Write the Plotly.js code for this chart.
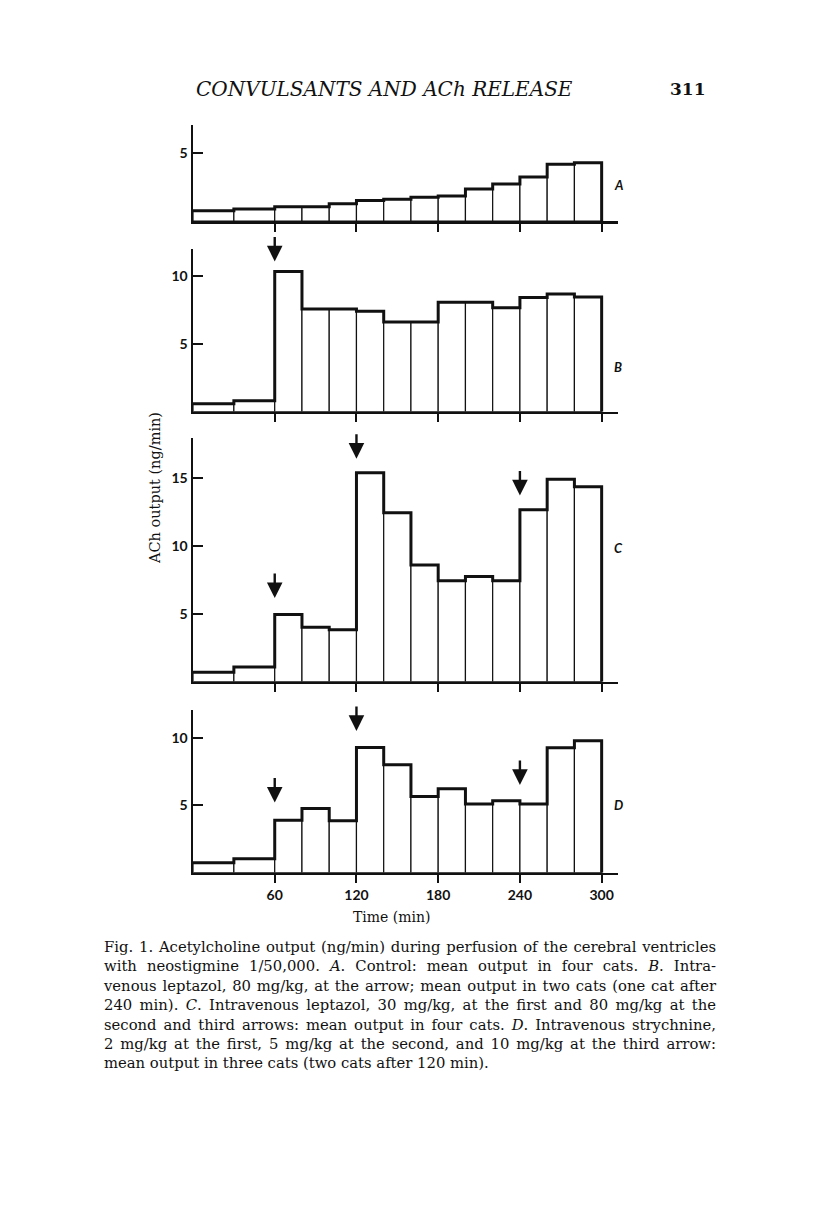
<!DOCTYPE html>
<html>
<head>
<meta charset="utf-8">
<script src="https://cdn.plot.ly/plotly-3.0.1.min.js"></script>
<style>
  body { margin: 0; background: #fff; }
  #wrap { position: relative; width: 816px; height: 1221px; }
  #fig { position: absolute; left: 0; top: 0; width: 816px; height: 1221px; }
  #caption { position: absolute; left: 104px; top: 937px; width: 612px;
             font-family: "DejaVu Serif", serif; font-size: 14.8px; line-height: 19.4px; color: #111; }
  #caption div { white-space: nowrap; text-align: justify; text-align-last: justify; }
  #caption div.last { text-align-last: left; }
</style>
</head>
<body>
<div id="wrap">
  <div id="fig"></div>
  <div id="caption"></div>
</div>
<script>
// bin edges (min): two 30-min collections, then 20-min collections
const edges = [0, 30, 60, 80, 100, 120, 140, 160, 180, 200, 220, 240, 260, 280, 300];

// ACh output (ng/min) for each collection period
const valA = [0.76, 0.88, 1.05, 1.05, 1.27, 1.5, 1.6, 1.74, 1.84, 2.35, 2.72, 3.24, 4.17, 4.29];
const valB = [0.59, 0.81, 10.3, 7.55, 7.55, 7.38, 6.6, 6.6, 8.04, 8.04, 7.65, 8.4, 8.65, 8.43];
const valC = [0.69, 1.08, 4.95, 4.0, 3.82, 15.37, 12.43, 8.58, 7.43, 7.74, 7.43, 12.65, 14.88, 14.34];
const valD = [0.74, 1.04, 3.88, 4.76, 3.85, 9.28, 8.0, 5.65, 6.22, 5.09, 5.33, 5.09, 9.26, 9.78];

// injection arrows: time and height of the arrow tip
const arrowTimesB = [60];
const arrowTipsB = [11.05];
const arrowTimesC = [60, 120, 240];
const arrowTipsC = [6.15, 16.4, 13.7];
const arrowTimesD = [60, 120, 240];
const arrowTipsD = [5.2, 10.5, 6.5];

const xTicks = [60, 120, 180, 240, 300];
const panelLetters = ['A', 'B', 'C', 'D'];

const captionLines = [
  'Fig. 1. Acetylcholine output (ng/min) during perfusion of the cerebral ventricles',
  'with neostigmine 1/50,000. <i>A</i>. Control: mean output in four cats. <i>B</i>. Intra-',
  'venous leptazol, 80 mg/kg, at the arrow; mean output in two cats (one cat after',
  '240 min). <i>C</i>. Intravenous leptazol, 30 mg/kg, at the first and 80 mg/kg at the',
  'second and third arrows: mean output in four cats. <i>D</i>. Intravenous strychnine,',
  '2 mg/kg at the first, 5 mg/kg at the second, and 10 mg/kg at the third arrow:',
  'mean output in three cats (two cats after 120 min).'
];

const H = 1221, W = 816;
const py = p => 1 - p / H;
const px = p => p / W;

const panels = [
  { vals: valA, top: 125, bottom: 221, ymax: 7.06, ticks: [5], arrows: [[], []], letterY: 185 },
  { vals: valB, top: 249.3, bottom: 411.7, ymax: 11.94, ticks: [5, 10], arrows: [arrowTimesB, arrowTipsB], letterY: 367 },
  { vals: valC, top: 438.3, bottom: 681.7, ymax: 17.9, ticks: [5, 10, 15], arrows: [arrowTimesC, arrowTipsC], letterY: 548 },
  { vals: valD, top: 710, bottom: 872.7, ymax: 12.05, ticks: [5, 10], arrows: [arrowTimesD, arrowTipsD], letterY: 805 }
];

const tickFont = { family: 'Lato, "Open Sans", sans-serif', size: 14, color: '#111', weight: 700 };
const data = [];
const layout = {
  width: W, height: H,
  margin: { l: 0, r: 0, t: 0, b: 0 },
  paper_bgcolor: '#fff', plot_bgcolor: '#fff',
  showlegend: false,
  annotations: [],
  font: { family: '"DejaVu Serif", serif', color: '#111' }
};

const centers = edges.slice(0, -1).map((e, i) => (e + edges[i + 1]) / 2);
const widths = edges.slice(0, -1).map((e, i) => edges[i + 1] - e);

panels.forEach((p, i) => {
  const n = i === 0 ? '' : String(i + 1);
  const xa = 'x' + n, ya = 'y' + n;

  // thin-outlined white bars
  data.push({
    type: 'bar', x: centers, y: p.vals, width: widths,
    xaxis: xa, yaxis: ya,
    marker: { color: '#fff', line: { color: '#111', width: 1.2 } },
    hoverinfo: 'skip'
  });

  // heavy stepped outline along the tops
  const sx = edges.slice();
  const sy = p.vals.concat([p.vals[p.vals.length - 1]]);
  sx.push(edges[edges.length - 1]);
  sy.push(0);
  data.push({
    type: 'scatter', mode: 'lines', x: sx, y: sy,
    xaxis: xa, yaxis: ya,
    line: { shape: 'hv', color: '#111', width: 3 },
    cliponaxis: false, hoverinfo: 'skip'
  });

  layout['xaxis' + n] = {
    domain: [px(193), px(618)], range: [0, 312], anchor: ya,
    showline: true, linecolor: '#111', linewidth: 2.5,
    ticks: 'outside', ticklen: 8, tickwidth: 2, tickcolor: '#111',
    tickvals: xTicks, showticklabels: i === 3, tickfont: tickFont, ticklabelstandoff: 0,
    showgrid: false, zeroline: false, fixedrange: true
  };
  layout['yaxis' + n] = {
    domain: [py(p.bottom), py(p.top)], range: [0, p.ymax], anchor: xa,
    showline: true, linecolor: '#111', linewidth: 2.5,
    ticks: 'inside', ticklen: 10, tickwidth: 2, tickcolor: '#111',
    tickvals: p.ticks, tickfont: tickFont, ticklabelstandoff: 0,
    showgrid: false, zeroline: false, fixedrange: true
  };

  p.arrows[0].forEach((t, k) => {
    layout.annotations.push({
      x: t, y: p.arrows[1][k], xref: xa, yref: ya, text: '',
      showarrow: true, ax: 0, ay: -26, arrowhead: 2, arrowsize: 1.3,
      arrowwidth: 2.4, arrowcolor: '#111', standoff: 0
    });
  });

  layout.annotations.push({
    x: px(612), y: py(p.letterY), xref: 'paper', yref: 'paper',
    text: panelLetters[i], showarrow: false, xanchor: 'left', yanchor: 'middle',
    font: { family: 'Lato, sans-serif', size: 13, style: 'italic', weight: 700, color: '#111' }
  });
});

layout.annotations.push(
  { x: px(155), y: py(488), xref: 'paper', yref: 'paper', text: 'ACh output (ng/min)',
    xanchor: 'center', yanchor: 'middle',
    textangle: -90, showarrow: false, font: { family: '"DejaVu Serif", serif', size: 14.5, color: '#111' } },
  { x: px(392), y: py(917), xref: 'paper', yref: 'paper', text: 'Time (min)',
    xanchor: 'center', yanchor: 'middle',
    showarrow: false, font: { family: '"DejaVu Serif", serif', size: 14, color: '#111' } },
  { x: px(384), y: py(89), xref: 'paper', yref: 'paper', text: 'CONVULSANTS AND ACh RELEASE',
    xanchor: 'center', yanchor: 'middle',
    showarrow: false, font: { family: '"DejaVu Serif", serif', size: 20, style: 'italic', color: '#111' } },
  { x: px(688), y: py(89), xref: 'paper', yref: 'paper', text: '311',
    xanchor: 'center', yanchor: 'middle',
    showarrow: false, font: { family: '"DejaVu Serif", serif', size: 17, weight: 700, color: '#111' } }
);

Plotly.newPlot('fig', data, layout, { staticPlot: true });

document.getElementById('caption').innerHTML = captionLines
  .map((l, i) => '<div' + (i === captionLines.length - 1 ? ' class="last"' : '') + '>' + l + '</div>')
  .join('');
</script>
</body>
</html>
